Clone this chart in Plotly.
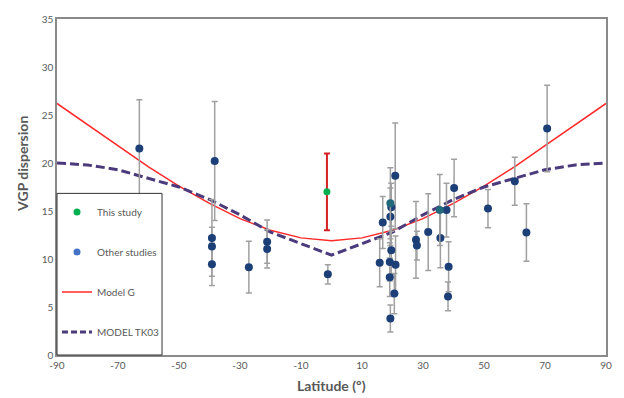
import plotly.graph_objects as go

# ---------------- data ----------------
# Other studies (latitude, VGP dispersion, error)
other_lat = [-63.0, -38.3, -39.2, -39.2, -39.2, -27.1, -21.1, -21.1, -1.2,
             16.8, 15.8, 19.6, 19.3, 19.6, 19.1, 21.0, 19.1, 20.6, 19.3, 20.9,
             27.7, 28.0, 31.7, 37.7, 35.7, 38.4, 38.2, 40.2,
             51.3, 60.1, 63.9, 70.7]
other_vgp = [21.5, 20.2, 12.2, 11.3, 9.45, 9.15, 11.8, 11.05, 8.4,
             13.8, 9.6, 15.4, 14.4, 10.9, 9.7, 9.4, 8.1, 6.4, 3.8, 18.66,
             12.0, 11.4, 12.8, 15.1, 12.2, 9.2, 6.1, 17.4,
             15.25, 18.1, 12.76, 23.6]
other_err = [5.1, 6.2, 4.0, 2.0, 2.2, 2.7, 2.25, 2.0, 1.0,
             2.7, 2.5, 2.5, 3.0, 2.5, 2.0, 3.0, 2.0, 2.1, 1.4, 5.5,
             4.0, 1.5, 4.0, 2.8, 3.1, 2.6, 1.5, 3.0,
             2.0, 2.5, 3.0, 4.5]

# Overlapping (teal-looking) points
overlap_lat = [19.3, 35.5]
overlap_vgp = [15.8, 15.1]
overlap_err = [3.7, 3.7]

# This study
this_lat = [-1.5]
this_vgp = [17.0]
this_err = [4.0]

# Model curves
model_lat = [-90, -80, -70, -60, -50, -40, -30, -20, -10, 0,
             10, 20, 30, 40, 50, 60, 70, 80, 90]
model_g = [26.2, 24.0, 21.8, 19.6, 17.6, 15.8, 14.2, 13.0, 12.2, 11.9,
           12.2, 13.0, 14.2, 15.8, 17.6, 19.6, 21.8, 24.0, 26.2]
model_tk03 = [20.0, 19.8, 19.3, 18.4, 17.5, 16.2, 14.6, 12.8, 11.6, 10.4,
              11.6, 12.8, 14.6, 16.2, 17.5, 18.4, 19.3, 19.8, 20.0]

x_ticks = [-90, -70, -50, -30, -10, 10, 30, 50, 70, 90]
x_ticklabels = ["-90", "-70", "-50", "-30", "-10", "10", "30", "50", "70", "90"]
y_ticks = [0, 5, 10, 15, 20, 25, 30, 35]

# ---------------- figure ----------------
GRAY_TXT = "#595959"
ERR_GRAY = "#a0a0a0"
NAVY = "#1c3f78"
TEAL = "#23697c"
RED = "#ff2a2a"
PURPLE = "#4b3b7c"
FONT = "Lato"

fig = go.Figure()

fig.add_trace(go.Scatter(
    x=model_lat, y=model_g, mode="lines", showlegend=False,
    line=dict(color=RED, width=1.5)))
fig.add_trace(go.Scatter(
    x=model_lat, y=model_tk03, mode="lines", showlegend=False,
    line=dict(color=PURPLE, width=3, dash="9px,4px")))

fig.add_trace(go.Scatter(
    x=other_lat, y=other_vgp, mode="markers", showlegend=False,
    marker=dict(color=NAVY, size=8),
    error_y=dict(type="data", array=other_err, color=ERR_GRAY,
                 thickness=1.5, width=3)))
fig.add_trace(go.Scatter(
    x=overlap_lat, y=overlap_vgp, mode="markers", showlegend=False,
    marker=dict(color=TEAL, size=8),
    error_y=dict(type="data", array=overlap_err, color=ERR_GRAY,
                 thickness=1.5, width=3)))
fig.add_trace(go.Scatter(
    x=this_lat, y=this_vgp, mode="markers", showlegend=False,
    marker=dict(color="#00b050", size=7),
    error_y=dict(type="data", array=this_err, color="#d42020",
                 thickness=2, width=3)))

# legend-only entries
fig.add_trace(go.Scatter(x=[None], y=[None], mode="markers", name="This study",
                         legendgroup="a", marker=dict(color="#00b050", size=7)))
fig.add_trace(go.Scatter(x=[None], y=[None], mode="markers", name="Other studies",
                         legendgroup="b", marker=dict(color="#4472c4", size=7)))
fig.add_trace(go.Scatter(x=[None], y=[None], mode="lines", name="Model G",
                         legendgroup="c", line=dict(color=RED, width=1.5)))
fig.add_trace(go.Scatter(x=[None], y=[None], mode="lines", name="MODEL TK03",
                         legendgroup="d", line=dict(color=PURPLE, width=3, dash="6px,3px")))

fig.update_layout(
    width=624, height=398,
    margin=dict(l=57, r=13, t=12, b=43),
    paper_bgcolor="white", plot_bgcolor="white",
    font=dict(family=FONT, size=10, color=GRAY_TXT),
    legend=dict(x=0, y=0.469, xanchor="left", yanchor="top",
                bgcolor="rgba(0,0,0,0)", borderwidth=0,
                tracegroupgap=21, traceorder="grouped",
                font=dict(family=FONT, size=10, color=GRAY_TXT),
                itemwidth=30),
    xaxis=dict(range=[-90, 90], tickvals=x_ticks, ticktext=x_ticklabels,
               showgrid=False, zeroline=False, ticks="",
               showline=True, linecolor="#8a8a8a", linewidth=1.5, mirror=True,
               tickfont=dict(size=10, color=GRAY_TXT)),
    yaxis=dict(range=[0, 35], tickvals=y_ticks,
               showgrid=False, zeroline=False, ticks="",
               showline=True, linecolor="#8a8a8a", linewidth=1.5, mirror=True,
               tickfont=dict(size=10, color=GRAY_TXT)),
    shapes=[
        dict(type="rect", xref="paper", yref="paper",
             x0=0, x1=0.1913, y0=0, y1=0.481, layer="above",
             fillcolor="white", line=dict(color="#333333", width=1)),
    ],
    annotations=[
        dict(text="<b>Latitude (º)</b>", xref="paper", yref="paper",
             x=0.5, y=-0.09, xanchor="center", yanchor="middle",
             showarrow=False, font=dict(family=FONT, size=14, color=GRAY_TXT)),
        dict(text="<b>VGP dispersion</b>", xref="paper", yref="paper",
             x=-0.063, y=0.57, xanchor="center", yanchor="middle", textangle=-90,
             showarrow=False, font=dict(family=FONT, size=14, color=GRAY_TXT)),
    ],
)

fig.write_html("out.html")
